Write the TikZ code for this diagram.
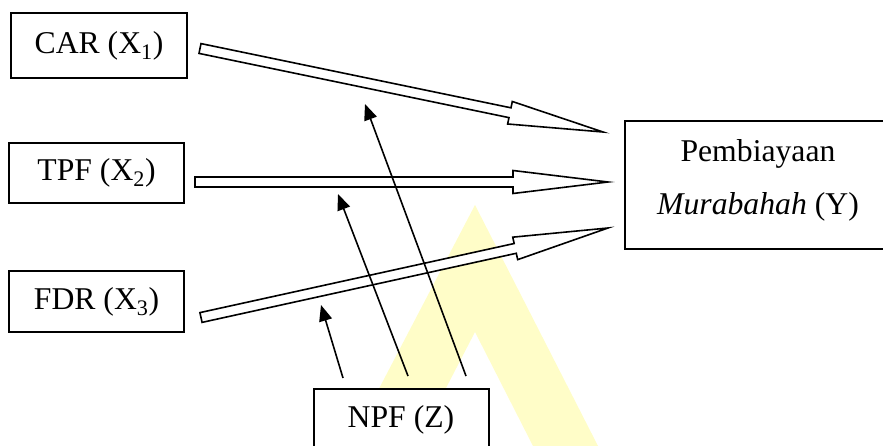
\documentclass[tikz,border=0pt]{standalone}
\usepackage{fontspec}
\setmainfont{Liberation Serif}
\usetikzlibrary{calc,arrows.meta}
\definecolor{wmyellow}{RGB}{255,253,200}
\tikzset{
  varbox/.style={draw=black, line width=1.6pt, fill=white, inner sep=0pt,
    font=\fontsize{31.7}{38}\selectfont},
  lbl/.style={inner sep=0pt, font=\fontsize{31.7}{38}\selectfont},
  blockstyle/.style={draw=black, line width=1.6pt, fill=white, line join=miter},
  modarrow/.style={draw=black, line width=1.6pt,
    -{Triangle[length=16pt,width=13pt]}},
}
\newcommand{\blockarr}[3]{%
  \coordinate (#1-a) at #2;
  \coordinate (#1-b) at #3;
  \coordinate (#1-h) at ($(#1-b)!95pt!(#1-a)$);
  \draw[blockstyle] ($(#1-a)!5pt!90:(#1-b)$) -- ($(#1-h)!5pt!-90:(#1-a)$)
    -- ($(#1-h)!11.5pt!-90:(#1-a)$) -- (#1-b) -- ($(#1-h)!11.5pt!90:(#1-a)$)
    -- ($(#1-h)!5pt!90:(#1-a)$) -- ($(#1-a)!5pt!-90:(#1-b)$) -- cycle;}
\begin{document}
\begin{tikzpicture}[x=1pt,y=-1pt]
\useasboundingbox (0,0) rectangle (883,446);
% watermark
\fill[wmyellow] (475,205) -- (598,446) -- (533,446) -- (475,332) -- (416,446) -- (349,446) -- cycle;
% boxes
\node[varbox, minimum width=176pt, minimum height=65pt] (car) at (99,45.5) {CAR (X\textsubscript{1})};
\node[varbox, minimum width=175pt, minimum height=60pt] (tpf) at (96.5,173) {TPF (X\textsubscript{2})};
\node[varbox, minimum width=175pt, minimum height=61pt] (fdr) at (96.5,301.5) {FDR (X\textsubscript{3})};
\node[varbox, minimum width=270pt, minimum height=128pt, anchor=north west] (y) at (624,120) {};
\node[lbl, anchor=base] (y1) at (758,162) {Pembiayaan};
\node[lbl, anchor=base] (y2) at (758,215) {\textit{Murabahah} (Y)};
\node[varbox, minimum width=175pt, minimum height=80pt, anchor=north west] (npf) at (313,388) {};
\node[lbl, anchor=base] (npflbl) at (401,427) {NPF (Z)};
% block arrows
\blockarr{carY}{(200,48.5)}{(603,132)}
\blockarr{tpfY}{(195,182)}{(608,182)}
\blockarr{fdrY}{(201,317.5)}{(608,228)}
% moderating arrows
\coordinate (m1s) at (343,378);
\coordinate (m1e) at (321,305);
\coordinate (m2s) at (408,376);
\coordinate (m2e) at (338,194);
\coordinate (m3s) at (466,376);
\coordinate (m3e) at (365,104);
\draw[modarrow] (m1s) -- (m1e);
\draw[modarrow] (m2s) -- (m2e);
\draw[modarrow] (m3s) -- (m3e);
\end{tikzpicture}
\end{document}
